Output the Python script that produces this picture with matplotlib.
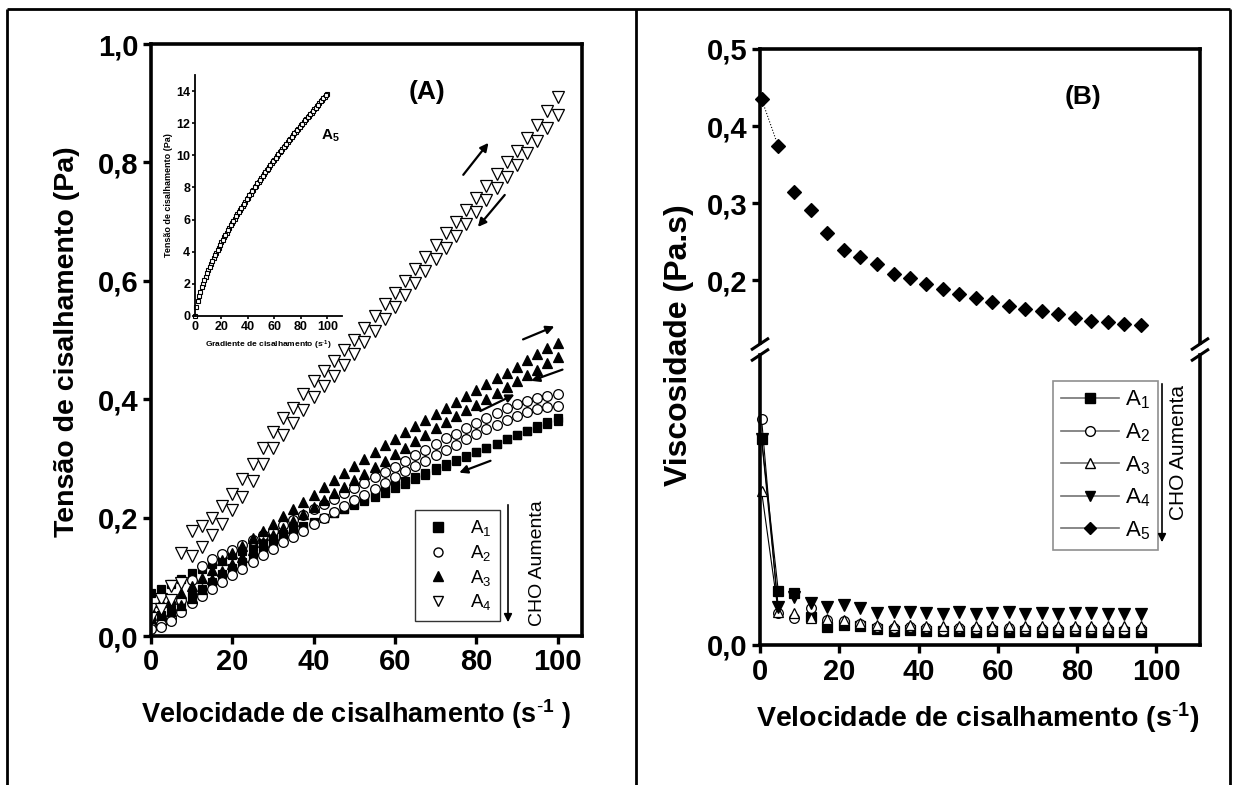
import matplotlib
matplotlib.use('Agg')
import matplotlib.pyplot as plt
from matplotlib.lines import Line2D
from matplotlib.patches import FancyArrowPatch

plt.rcParams['font.family'] = ['Liberation Sans', 'DejaVu Sans']
plt.rcParams['mathtext.fontset'] = 'custom'
plt.rcParams['mathtext.rm'] = 'Liberation Sans'
plt.rcParams['mathtext.it'] = 'Liberation Sans:italic'
plt.rcParams['mathtext.bf'] = 'Liberation Sans:bold'

# ---------------- data: panel A (shear stress, up / down curves) -------------
shear_rate_A = [0, 2.5, 5, 7.5, 10, 12.5, 15, 17.5, 20, 22.5, 25, 27.5, 30, 32.5, 35,
                37.5, 40, 42.5, 45, 47.5, 50, 52.5, 55, 57.5, 60, 62.5, 65, 67.5, 70,
                72.5, 75, 77.5, 80, 82.5, 85, 87.5, 90, 92.5, 95, 97.5, 100]

A1_up = [0.072, 0.080, 0.088, 0.097, 0.106, 0.114, 0.122, 0.130, 0.137, 0.144, 0.151,
         0.158, 0.165, 0.172, 0.179, 0.186, 0.193, 0.200, 0.207, 0.214, 0.221, 0.228,
         0.235, 0.242, 0.250, 0.257, 0.265, 0.272, 0.280, 0.287, 0.295, 0.302, 0.310,
         0.317, 0.325, 0.332, 0.340, 0.347, 0.355, 0.362, 0.368]
A1_down = [0.025, 0.035, 0.045, 0.056, 0.068, 0.080, 0.092, 0.104, 0.115, 0.125, 0.135,
           0.145, 0.155, 0.164, 0.173, 0.182, 0.191, 0.199, 0.207, 0.215, 0.223, 0.231,
           0.239, 0.247, 0.255, 0.262, 0.269, 0.276, 0.283, 0.290, 0.297, 0.304, 0.311,
           0.318, 0.325, 0.332, 0.339, 0.346, 0.352, 0.358, 0.364]
A2_up = [0.015, 0.020, 0.030, 0.060, 0.095, 0.118, 0.130, 0.138, 0.146, 0.154, 0.162,
         0.170, 0.178, 0.187, 0.196, 0.205, 0.214, 0.223, 0.232, 0.241, 0.250, 0.259,
         0.268, 0.277, 0.285, 0.295, 0.305, 0.315, 0.325, 0.334, 0.342, 0.351, 0.360,
         0.369, 0.377, 0.385, 0.392, 0.397, 0.402, 0.405, 0.408]
A2_down = [0.012, 0.015, 0.025, 0.040, 0.055, 0.068, 0.080, 0.092, 0.103, 0.114, 0.125,
           0.136, 0.147, 0.158, 0.168, 0.178, 0.189, 0.199, 0.209, 0.219, 0.229, 0.239,
           0.249, 0.259, 0.268, 0.278, 0.287, 0.296, 0.305, 0.314, 0.323, 0.332, 0.341,
           0.349, 0.357, 0.365, 0.372, 0.378, 0.383, 0.386, 0.388]
A3_up = [0.045, 0.058, 0.062, 0.072, 0.085, 0.098, 0.112, 0.128, 0.140, 0.152, 0.165,
         0.178, 0.190, 0.203, 0.215, 0.227, 0.239, 0.251, 0.263, 0.275, 0.287, 0.299,
         0.311, 0.322, 0.333, 0.344, 0.355, 0.365, 0.375, 0.385, 0.395, 0.405, 0.415,
         0.425, 0.435, 0.445, 0.455, 0.466, 0.476, 0.486, 0.495]
A3_down = [0.030, 0.035, 0.042, 0.052, 0.065, 0.080, 0.096, 0.110, 0.122, 0.134, 0.146,
           0.158, 0.170, 0.182, 0.194, 0.206, 0.218, 0.230, 0.241, 0.252, 0.263, 0.274,
           0.285, 0.296, 0.307, 0.318, 0.329, 0.340, 0.351, 0.361, 0.371, 0.381, 0.391,
           0.401, 0.411, 0.421, 0.431, 0.441, 0.450, 0.461, 0.471]
A4_up = [0.045, 0.062, 0.085, 0.140, 0.178, 0.185, 0.200, 0.220, 0.240, 0.265, 0.290,
         0.318, 0.345, 0.368, 0.385, 0.408, 0.430, 0.448, 0.465, 0.483, 0.500, 0.520,
         0.540, 0.560, 0.580, 0.600, 0.620, 0.640, 0.660, 0.680, 0.700, 0.720, 0.740,
         0.760, 0.780, 0.800, 0.820, 0.842, 0.864, 0.887, 0.910]
A4_down = [0.030, 0.045, 0.060, 0.090, 0.135, 0.150, 0.170, 0.190, 0.212, 0.235, 0.262,
           0.290, 0.318, 0.340, 0.360, 0.382, 0.404, 0.422, 0.440, 0.458, 0.476, 0.496,
           0.516, 0.536, 0.556, 0.576, 0.596, 0.616, 0.636, 0.656, 0.676, 0.696, 0.716,
           0.736, 0.756, 0.776, 0.796, 0.816, 0.836, 0.858, 0.880]

# inset: A5 shear stress (Pa), up and down sweeps
inset_rate_up = [0, 2, 4, 6, 8, 10, 12, 14, 16, 18, 20, 22, 24, 26, 28, 30, 32, 34, 36,
                 38, 40, 42, 44, 46, 48, 50, 52, 54, 56, 58, 60, 62, 64, 66, 68, 70, 72,
                 74, 76, 78, 80, 82, 84, 86, 88, 90, 92, 94, 96, 98, 100]
inset_A5_up = [0.0, 0.94, 1.52, 2.01, 2.45, 2.85, 3.23, 3.59, 3.93, 4.26, 4.58, 4.89,
               5.19, 5.49, 5.77, 6.05, 6.33, 6.59, 6.86, 7.12, 7.37, 7.62, 7.87, 8.12,
               8.36, 8.59, 8.82, 9.06, 9.29, 9.51, 9.74, 9.96, 10.18, 10.40, 10.61,
               10.82, 11.04, 11.25, 11.45, 11.66, 11.86, 12.06, 12.27, 12.47, 12.66,
               12.86, 13.06, 13.25, 13.44, 13.63, 13.82]
inset_rate_down = [1, 3, 5, 7, 9, 11, 13, 15, 17, 19, 21, 23, 25, 27, 29, 31, 33, 35,
                   37, 39, 41, 43, 45, 47, 49, 51, 53, 55, 57, 59, 61, 63, 65, 67, 69,
                   71, 73, 75, 77, 79, 81, 83, 85, 87, 89, 91, 93, 95, 97, 99]
inset_A5_down = [0.55, 1.25, 1.78, 2.24, 2.66, 3.05, 3.42, 3.77, 4.10, 4.43, 4.74, 5.05,
                 5.35, 5.64, 5.92, 6.20, 6.47, 6.74, 7.00, 7.26, 7.51, 7.76, 8.00, 8.25,
                 8.48, 8.71, 8.95, 9.18, 9.41, 9.63, 9.86, 10.08, 10.30, 10.51, 10.72,
                 10.94, 11.15, 11.36, 11.56, 11.77, 11.97, 12.18, 12.38, 12.57, 12.77,
                 12.97, 13.16, 13.36, 13.55, 13.74]

# ---------------- data: panel B (viscosity) ----------------------------------
shear_rate_B = [0.4, 4.6, 8.7, 12.9, 17.0, 21.2, 25.3, 29.5, 33.7, 37.8, 42.0, 46.1,
                50.3, 54.4, 58.6, 62.8, 66.9, 71.1, 75.2, 79.4, 83.5, 87.7, 91.9, 96.0]
visc_A5 = [0.435, 0.374, 0.315, 0.291, 0.262, 0.240, 0.231, 0.222, 0.209, 0.203, 0.195,
           0.189, 0.183, 0.177, 0.172, 0.167, 0.163, 0.160, 0.156, 0.152, 0.148, 0.146,
           0.144, 0.142]
visc_A1 = [0.071, 0.0187, 0.0180, 0.0095, 0.0063, 0.0069, 0.0065, 0.0054, 0.0050, 0.0052,
           0.0048, 0.0050, 0.0049, 0.0046, 0.0047, 0.0045, 0.0048, 0.0046, 0.0045, 0.0047,
           0.0046, 0.0045, 0.0046, 0.0045]
visc_A2 = [0.078, 0.0110, 0.0094, 0.0128, 0.0086, 0.0083, 0.0071, 0.0062, 0.0060, 0.0062,
           0.0058, 0.0052, 0.0058, 0.0055, 0.0054, 0.0057, 0.0056, 0.0055, 0.0054, 0.0055,
           0.0056, 0.0054, 0.0052, 0.0055]
visc_A3 = [0.053, 0.0115, 0.0110, 0.0093, 0.0088, 0.0086, 0.0076, 0.0069, 0.0068, 0.0068,
           0.0067, 0.0066, 0.0067, 0.0066, 0.0066, 0.0067, 0.0066, 0.0066, 0.0066, 0.0066,
           0.0066, 0.0066, 0.0066, 0.0066]
visc_A4 = [0.071, 0.0132, 0.0165, 0.0145, 0.0132, 0.0138, 0.0128, 0.0111, 0.0115, 0.0115,
           0.0110, 0.0108, 0.0115, 0.0108, 0.0112, 0.0115, 0.0108, 0.0110, 0.0108, 0.0109,
           0.0112, 0.0107, 0.0108, 0.0107]

xticks = [0, 20, 40, 60, 80, 100]
yticks_A = [0.0, 0.2, 0.4, 0.6, 0.8, 1.0]
yticklabels_A = ['0,0', '0,2', '0,4', '0,6', '0,8', '1,0']
yticks_Btop = [0.2, 0.3, 0.4, 0.5]
yticklabels_Btop = ['0,2', '0,3', '0,4', '0,5']
series_labels = ['A$_1$', 'A$_2$', 'A$_3$', 'A$_4$', 'A$_5$']

# ---------------- figure ------------------------------------------------------
W, H = 1235, 785
fig = plt.figure(figsize=(W / 100, H / 100), dpi=100)


def fr(l, t, r, b):
    return [l / W, 1 - b / H, (r - l) / W, (b - t) / H]


def P(x, y):
    return (x / W, 1 - y / H)


def fline(x0, y0, x1, y1, lw=2.0, color='k'):
    fig.add_artist(Line2D([x0 / W, x1 / W], [1 - y0 / H, 1 - y1 / H],
                          transform=fig.transFigure, lw=lw, color=color,
                          solid_capstyle='butt'))


# outer table border
fline(7, 9, 1230, 9)
fline(7, 9, 7, 785)
fline(1230, 9, 1230, 785)
fline(636, 9, 636, 785)

TICK_FS = 21
SPINE_LW = 2.6
SUP = '$^{\\mathbf{\\text{-}1}}$'


def style_axes(ax):
    for s in ax.spines.values():
        s.set_linewidth(SPINE_LW)
    ax.tick_params(direction='out', length=6, width=2.4, labelsize=TICK_FS,
                   top=False, right=False, pad=3)


# ---------------- panel A ----------------------------------------------------
axA = fig.add_axes(fr(151, 44, 582, 636))
style_axes(axA)
axA.set_xlim(0, 106)
axA.set_ylim(0, 1.0)
axA.set_xticks(xticks)
axA.set_xticklabels([str(v) for v in xticks])
axA.set_yticks(yticks_A)
axA.set_yticklabels(yticklabels_A)
for t in axA.get_xticklabels() + axA.get_yticklabels():
    t.set_fontweight('bold')

mk = dict(ls='none', mec='k', mew=0.9)
axA.plot(shear_rate_A, A1_up, marker='s', ms=6.2, mfc='k', **mk)
axA.plot(shear_rate_A, A1_down, marker='s', ms=6.2, mfc='k', **mk)
axA.plot(shear_rate_A, A2_up, marker='o', ms=7, mfc='w', **mk)
axA.plot(shear_rate_A, A2_down, marker='o', ms=7, mfc='w', **mk)
axA.plot(shear_rate_A, A3_up, marker='^', ms=7.5, mfc='k', **mk)
axA.plot(shear_rate_A, A3_down, marker='^', ms=7.5, mfc='k', **mk)
axA.plot(shear_rate_A, A4_up, marker='v', ms=8.5, mfc='w', **mk)
axA.plot(shear_rate_A, A4_down, marker='v', ms=8.5, mfc='w', **mk)

arrow_kw = dict(arrowstyle='-|>', lw=1.6, color='k', mutation_scale=12, shrinkA=0, shrinkB=0)
for (x0, y0), (x1, y1) in [((76.8, 0.779), (83.0, 0.833)),
                           ((87.0, 0.745), (80.4, 0.691)),
                           ((91.5, 0.501), (99.2, 0.523)),
                           ((101.2, 0.450), (93.5, 0.431)),
                           ((81.0, 0.380), (89.4, 0.408)),
                           ((83.5, 0.296), (75.8, 0.276))]:
    axA.annotate('', xy=(x1, y1), xytext=(x0, y0), arrowprops=arrow_kw)

fig.text(*P(427, 92), '(A)', fontsize=19, fontweight='bold', ha='center', va='center')
fig.text(*P(67, 342), 'Tensão de cisalhamento (Pa)', rotation=90, fontsize=20.5,
         fontweight='bold', ha='center', va='center')
fig.text(*P(356, 714), 'Velocidade de cisalhamento (s' + SUP + ' )', fontsize=19.5,
         fontweight='bold', ha='center', va='center')

handlesA = [Line2D([], [], ls='none', marker='s', ms=6.5, mfc='k', mec='k'),
            Line2D([], [], ls='none', marker='o', ms=6.5, mfc='w', mec='k'),
            Line2D([], [], ls='none', marker='^', ms=7, mfc='k', mec='k'),
            Line2D([], [], ls='none', marker='v', ms=7, mfc='w', mec='k')]
legA = axA.legend(handlesA, series_labels[:4], loc='upper left',
                  bbox_to_anchor=P(415, 510), bbox_transform=fig.transFigure,
                  fontsize=13.5, frameon=True, fancybox=False, edgecolor='k',
                  handlelength=1.6, handletextpad=0.9, labelspacing=0.25,
                  borderpad=0.45, borderaxespad=0)
legA.get_frame().set_linewidth(1.0)

fig.add_artist(FancyArrowPatch(P(508, 502), P(508, 625), transform=fig.transFigure,
                               arrowstyle='-|>', mutation_scale=12, lw=1.2, color='k'))
fig.text(*P(538, 563), 'CHO Aumenta', rotation=90, fontsize=14, ha='center', va='center')

# inset
axI = fig.add_axes(fr(195, 75, 342, 316))
axI.spines['top'].set_visible(False)
axI.spines['right'].set_visible(False)
for s in ['left', 'bottom']:
    axI.spines[s].set_linewidth(1.3)
axI.set_xlim(0, 111)
axI.set_ylim(0, 15)
axI.set_xticks([0, 20, 40, 60, 80, 100])
axI.set_yticks([0, 2, 4, 6, 8, 10, 12, 14])
axI.tick_params(direction='out', length=2.5, width=1.2, labelsize=9, pad=1)
for t in axI.get_xticklabels() + axI.get_yticklabels():
    t.set_fontweight('bold')
axI.plot(inset_rate_up, inset_A5_up, ls='none', marker='s', ms=3.2, mfc='w', mec='k',
         mew=0.8, clip_on=False)
axI.plot(inset_rate_down, inset_A5_down, ls='none', marker='s', ms=3.2, mfc='w', mec='k',
         mew=0.8, clip_on=False)
axI.set_ylabel('Tensão de cisalhamento (Pa)', fontsize=6.5, fontweight='bold', labelpad=2)
axI.set_xlabel('Gradiente de cisalhamento (s' + SUP + ')', fontsize=6,
               fontweight='bold', labelpad=4)
fig.text(*P(330, 136), '$\\mathbf{A}_\\mathbf{5}$', fontsize=11, ha='center', va='center')

# ---------------- panel B ----------------------------------------------------
axT = fig.add_axes(fr(760, 49, 1200, 343))
axL = fig.add_axes(fr(760, 355, 1200, 645))
for ax in (axT, axL):
    style_axes(ax)
    ax.set_xlim(0, 111)
axT.spines['bottom'].set_visible(False)
axL.spines['top'].set_visible(False)
axT.set_ylim(0.119, 0.5)
axL.set_ylim(0, 0.1)
axT.set_xticks([])
axT.set_yticks(yticks_Btop)
axT.set_yticklabels(yticklabels_Btop)
axL.set_yticks([0.0])
axL.set_yticklabels(['0,0'])
axL.set_xticks(xticks)
axL.set_xticklabels([str(v) for v in xticks])
for ax in (axT, axL):
    for t in ax.get_xticklabels() + ax.get_yticklabels():
        t.set_fontweight('bold')

bkw = dict(ls='none', mec='k', mew=0.9, clip_on=False)
axL.plot(shear_rate_B[:2], visc_A1[:2], color='k', lw=0.8)
axL.plot(shear_rate_B[:2], visc_A2[:2], color='k', lw=0.8)
axL.plot(shear_rate_B[:2], visc_A3[:2], color='k', lw=0.8)
axL.plot(shear_rate_B[:2], visc_A4[:2], color='k', lw=0.8)
axT.plot(shear_rate_B[:2], visc_A5[:2], color='k', lw=0.8, ls=':')
axL.plot(shear_rate_B, visc_A1, marker='s', ms=7, mfc='k', **bkw)
axL.plot(shear_rate_B, visc_A2, marker='o', ms=7, mfc='w', **bkw)
axL.plot(shear_rate_B, visc_A3, marker='^', ms=7.5, mfc='w', **bkw)
axL.plot(shear_rate_B, visc_A4, marker='v', ms=8, mfc='k', **bkw)
axT.plot(shear_rate_B, visc_A5, marker='D', ms=6.8, mfc='k', **bkw)

# axis break marks
for xb in (760, 1200):
    fline(xb - 9, 350, xb + 9, 338, lw=2.2)
    fline(xb - 9, 361, xb + 9, 349, lw=2.2)

fig.text(*P(1083, 97), '(B)', fontsize=19, fontweight='bold', ha='center', va='center')
fig.text(*P(679, 345), 'Viscosidade (Pa.s)', rotation=90, fontsize=23,
         fontweight='bold', ha='center', va='center')
fig.text(*P(978, 718), 'Velocidade de cisalhamento (s' + SUP + ')', fontsize=20.5,
         fontweight='bold', ha='center', va='center')

grey = '0.45'
handlesB = [Line2D([], [], color=grey, lw=1.2, marker='s', ms=7, mfc='k', mec='k'),
            Line2D([], [], color=grey, lw=1.2, marker='o', ms=7, mfc='w', mec='k'),
            Line2D([], [], color=grey, lw=1.2, marker='^', ms=7, mfc='w', mec='k'),
            Line2D([], [], color=grey, lw=1.2, marker='v', ms=7, mfc='k', mec='k'),
            Line2D([], [], color=grey, lw=1.2, marker='D', ms=6.5, mfc='k', mec='k')]
legB = axL.legend(handlesB, series_labels, loc='upper left',
                  bbox_to_anchor=P(1053, 381), bbox_transform=fig.transFigure,
                  fontsize=16, frameon=True, fancybox=False, edgecolor=grey,
                  handlelength=2.6, handletextpad=0.3, labelspacing=0.45,
                  borderpad=0.35, borderaxespad=0)
legB.get_frame().set_linewidth(1.2)

fig.add_artist(FancyArrowPatch(P(1162, 381), P(1162, 545), transform=fig.transFigure,
                               arrowstyle='-|>', mutation_scale=12, lw=1.2, color='k'))
fig.text(*P(1179, 452), 'CHO Aumenta', rotation=90, fontsize=15, ha='center', va='center')

fig.savefig('out.png', dpi=100)
